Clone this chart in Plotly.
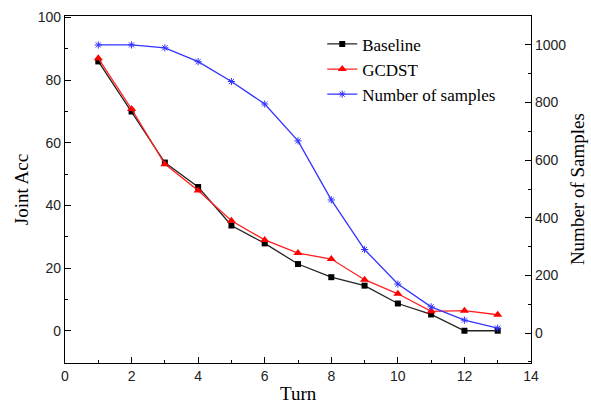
import plotly.graph_objects as go

turns = list(range(1, 14))
baseline = [86.0, 70.0, 53.7, 45.9, 33.6, 27.9, 21.3, 17.1, 14.4, 8.7, 5.2, 0.0, 0.0]
gcdst = [87.0, 70.8, 53.2, 44.8, 35.1, 29.0, 24.8, 22.9, 16.3, 11.8, 6.2, 6.4, 5.1]
num_samples = [1000, 1000, 990, 942, 873, 795, 667, 462, 290, 170, 91, 45, 17]

serif = "Liberation Serif"
sans = "Liberation Sans"

fig = go.Figure()

fig.add_trace(go.Scatter(
    x=turns, y=baseline, mode='lines+markers', name='Baseline',
    line=dict(color='#222222', width=1.3),
    marker=dict(symbol='square', size=6, color='black')
))
fig.add_trace(go.Scatter(
    x=turns, y=gcdst, mode='lines+markers', name='GCDST',
    line=dict(color='#ff2020', width=1.3),
    marker=dict(symbol='triangle-up', size=8, color='red')
))
fig.add_trace(go.Scatter(
    x=turns, y=num_samples, mode='lines+markers', name='Number of samples',
    yaxis='y2',
    line=dict(color='#3333ff', width=1.3),
    marker=dict(symbol='asterisk-open', size=6,
                line=dict(color='#8080ff', width=1))
))

tick_font = dict(family=sans, size=14, color='#222')

fig.update_layout(
    width=591, height=407,
    margin=dict(l=65, r=60, t=16, b=44),
    plot_bgcolor='white', paper_bgcolor='white',
    showlegend=True,
    legend=dict(
        x=0.552, y=0.97, xanchor='left', yanchor='top',
        bgcolor='rgba(0,0,0,0)',
        font=dict(family=serif, size=17, color='black'),
        tracegroupgap=0, itemwidth=30
    ),
    xaxis=dict(
        range=[0, 14], dtick=2, tick0=0, automargin=False,
        showgrid=False, zeroline=False,
        showline=True, linecolor='black', linewidth=1.3, mirror=True,
        ticks='inside', ticklen=6, tickcolor='black',
        minor=dict(dtick=1, ticks='inside', ticklen=3, tickcolor='black'),
        tickfont=tick_font
    ),
    yaxis=dict(
        range=[-10.3, 100.5], dtick=20, tick0=0, automargin=False,
        showgrid=False, zeroline=False,
        showline=True, linecolor='black', linewidth=1.3,
        ticks='inside', ticklen=6, tickcolor='black',
        minor=dict(dtick=10, ticks='inside', ticklen=3, tickcolor='black'),
        tickfont=tick_font
    ),
    yaxis2=dict(
        overlaying='y', side='right', automargin=False,
        range=[-104, 1100.5], dtick=200, tick0=0,
        showgrid=False, zeroline=False,
        showline=True, linecolor='black', linewidth=1.3,
        ticks='inside', ticklen=6, tickcolor='black',
        minor=dict(dtick=100, ticks='inside', ticklen=3, tickcolor='black'),
        tickfont=tick_font
    )
)

# axis titles placed by hand
title_font = dict(family=serif, size=19, color='black')
fig.add_annotation(text='Turn', xref='paper', yref='paper', x=0.5, y=-0.053,
                   xanchor='center', yanchor='top', showarrow=False, font=title_font)
fig.add_annotation(text='Joint Acc', xref='paper', yref='paper', x=-0.093, y=0.5,
                   xanchor='center', yanchor='middle', textangle=-90,
                   showarrow=False, font=title_font)
fig.add_annotation(text='Number of Samples', xref='paper', yref='paper', x=1.1, y=0.5,
                   xanchor='center', yanchor='middle', textangle=-90,
                   showarrow=False, font=title_font)

# page body has a default 8px margin; drop it so the figure sits at the corner
fig.write_html("out.html", config={'displayModeBar': False},
               post_script="document.body.style.margin='0';")
